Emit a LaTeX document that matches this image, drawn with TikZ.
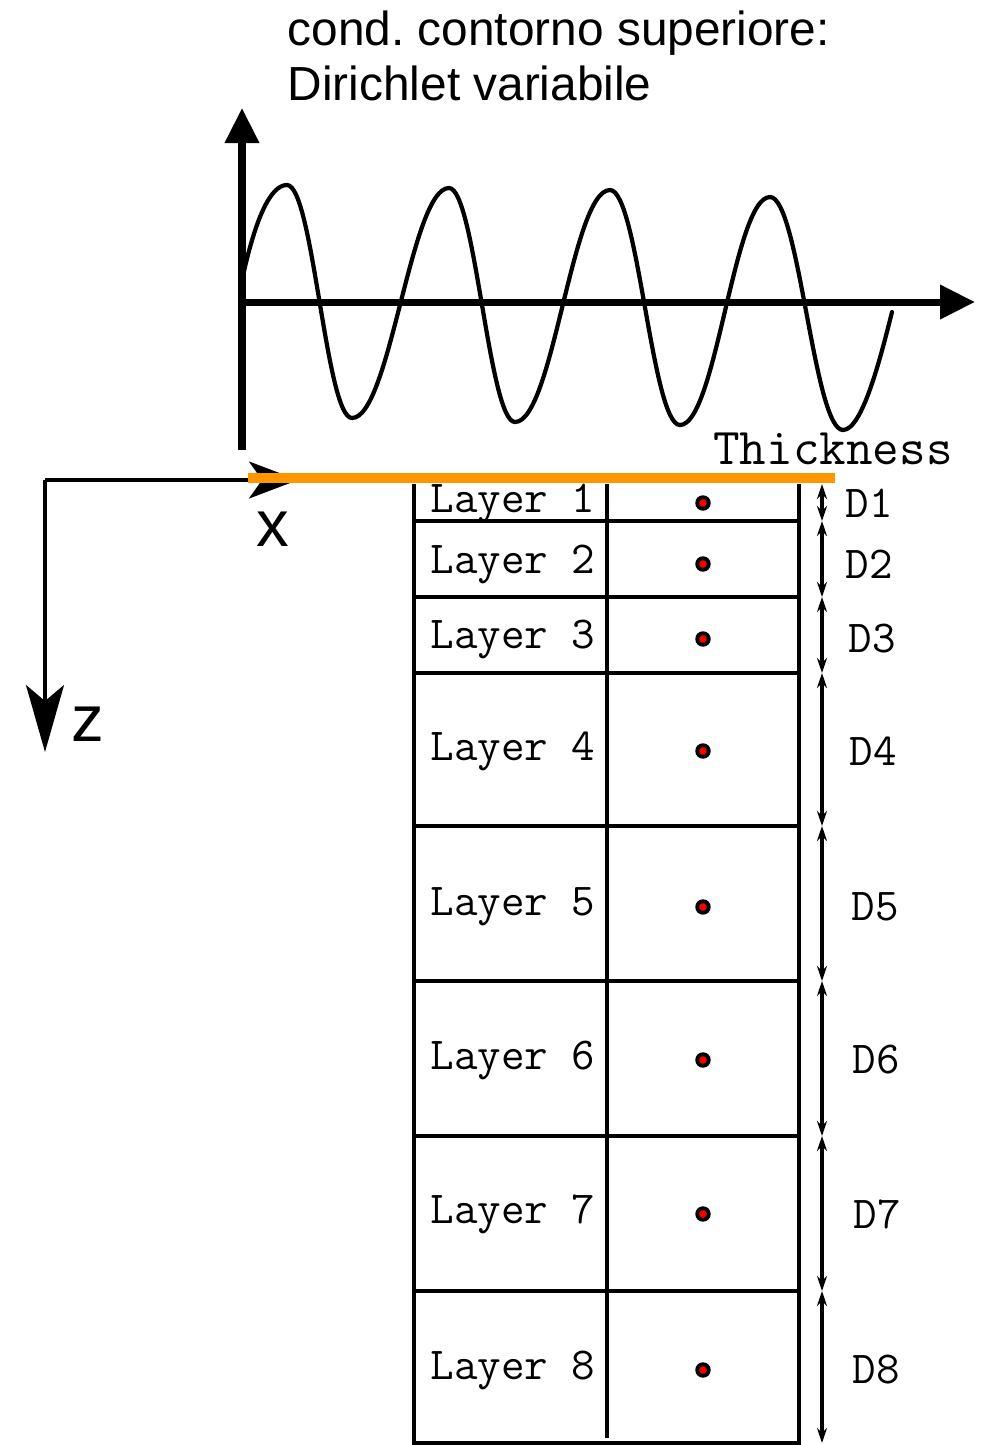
\documentclass[tikz,border=0pt]{standalone}
\usepackage{fontspec}
\setmainfont{Liberation Sans}
\usepackage{tikz}
\usetikzlibrary{arrows.meta,positioning,calc}
\definecolor{bcorange}{HTML}{FF9600}
\definecolor{dotred}{HTML}{FF0000}

\begin{document}
\begin{tikzpicture}[x=1cm, y=1cm, every node/.style={inner sep=0pt}]
  \tikzset{axisbig/.style={line width=2pt, -{Triangle[length=0.35cm, width=0.33cm]}},
           axissmall/.style={line width=0.9pt},
           gridline/.style={line width=1.05pt},
           dimline/.style={line width=1pt, {Stealth[length=0.15cm, width=0.1cm]}-{Stealth[length=0.15cm, width=0.1cm]}},
           laylbl/.style={font=\fontsize{13}{15}\ttfamily},
           laydot/.style={circle, draw=black, fill=dotred, line width=1.1pt, minimum size=0.115cm}}
  \useasboundingbox (0,0) rectangle (9.86,-14.45);

  % boundary condition, title and signal
  \node[anchor=north west, align=left, font=\fontsize{13.6}{15.65}\selectfont] (title) at (2.87,-0.10)
       {cond.\ contorno superiore:\\Dirichlet variabile};
  \coordinate (sig0) at (2.42,-3.02);
  \draw[axisbig] (2.42,-4.50) -- (2.42,-1.08);
  \draw[axisbig] (sig0) -- (9.75,-3.02);
  \draw[line width=1.2pt, line cap=round]
    (2.42,-2.80) .. controls (2.55,-2.20) and (2.70,-1.85) .. (2.87,-1.85)
    .. controls (3.13,-1.85) and (3.26,-4.18) .. (3.52,-4.18)
    .. controls (3.90,-4.18) and (4.11,-1.88) .. (4.49,-1.88)
    .. controls (4.75,-1.88) and (4.89,-4.22) .. (5.15,-4.22)
    .. controls (5.53,-4.22) and (5.72,-1.90) .. (6.10,-1.90)
    .. controls (6.38,-1.90) and (6.52,-4.25) .. (6.80,-4.25)
    .. controls (7.16,-4.25) and (7.34,-1.97) .. (7.70,-1.97)
    .. controls (7.99,-1.97) and (8.14,-4.30) .. (8.43,-4.30)
    .. controls (8.62,-4.30) and (8.80,-3.60) .. (8.92,-3.12);

  % reference frame x / z
  \coordinate (orig) at (0.45,-4.80);
  \coordinate (xend) at (2.98,-4.80);
  \coordinate (zend) at (0.45,-7.52);
  \draw[axissmall, -{Stealth[length=0.49cm, width=0.37cm, inset=0.13cm]}] (orig) -- (xend);
  \draw[axissmall, -{Stealth[length=0.67cm, width=0.38cm, inset=0.16cm]}] (orig) -- (zend);
  \node[font=\fontsize{18.6}{20}\selectfont] (xlbl) at (2.73,-5.29) {x};
  \node[font=\fontsize{18.6}{20}\selectfont] (zlbl) at (0.88,-7.24) {z};

  % surface
  \draw[bcorange, line width=2.9pt] (2.48,-4.78) -- (8.35,-4.78);
  \node[font=\fontsize{14.7}{16}\ttfamily] (thick) at (8.33,-4.49) {Thickness};

  % layer column
  \draw[gridline] (4.14,-4.84) -- (4.14,-14.45);
  \draw[gridline] (6.07,-4.84) -- (6.07,-14.38);
  \draw[line width=1.35pt] (7.99,-4.84) -- (7.99,-14.45);
  \coordinate (b0) at (8.22,-4.84);
  \foreach \i/\yb/\yt/\xd in {1/5.21/5.03/8.69, 2/5.97/5.64/8.69, 3/6.73/6.39/8.72, 4/8.26/7.51/8.73,
                              5/9.81/9.07/8.75, 6/11.36/10.60/8.76, 7/12.91/12.14/8.77, 8/14.43/13.70/8.76}{
    \draw[gridline] (4.14,-\yb) -- (7.99,-\yb);
    \node[laylbl] (L\i) at (5.13,-\yt) {Layer \i};
    \node[laydot] (dot\i) at (7.03,-\yt) {};
    \node[laylbl] (D\i) at (\xd,-\yt) {D\i};
    \coordinate (b\i) at (8.22,-\yb);
  }
  \foreach \i [evaluate=\i as \j using int(\i-1)] in {1,...,8}
    \draw[dimline] (b\j) -- (b\i);
\end{tikzpicture}
\end{document}
